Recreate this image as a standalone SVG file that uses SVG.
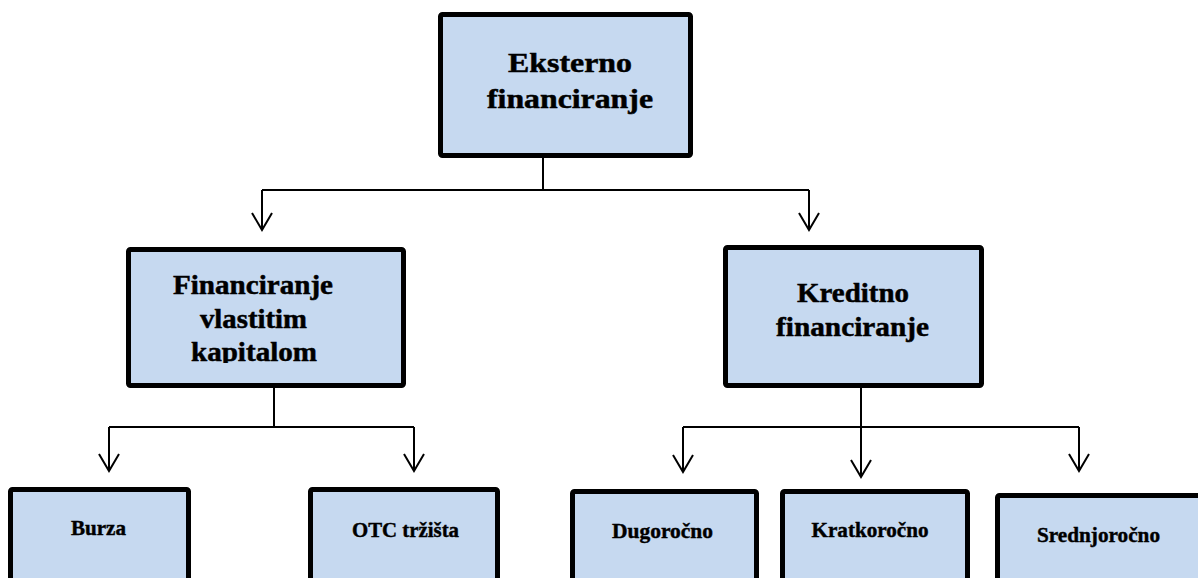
<svg xmlns="http://www.w3.org/2000/svg" width="1198" height="578" viewBox="0 0 1198 578">
<style>
.box{fill:#c6d9f0;stroke:#000;stroke-width:5;}
.t{font-family:"Liberation Serif","Times New Roman",serif;font-weight:bold;fill:#000;stroke:#000;stroke-width:0.5;text-anchor:middle;}
.big{font-size:28px;}
.small{font-size:20px;stroke-width:0.4;}
.con{fill:none;stroke:#000;stroke-width:2;}
</style>
<defs>
<marker id="arr" markerUnits="userSpaceOnUse" viewBox="-2 -12 22 24" markerWidth="22" markerHeight="24" refX="17" refY="0" orient="auto">
<path d="M0,-10 L17,0 L0,10" fill="none" stroke="#000" stroke-width="2"/>
</marker>
<clipPath id="clipL"><rect x="126" y="247" width="280" height="116"/></clipPath>
</defs>
<rect width="1198" height="578" fill="#fff"/>
<g id="connectors" class="con">
<path d="M543,158 V190 M262,190 H809"/>
<path d="M262,190 V230" marker-end="url(#arr)"/>
<path d="M809,190 V230" marker-end="url(#arr)"/>
<path d="M274,388 V427 M109,427 H414"/>
<path d="M109,427 V471" marker-end="url(#arr)"/>
<path d="M414,427 V471" marker-end="url(#arr)"/>
<path d="M683,427 H1079"/>
<path d="M861,388 V477" marker-end="url(#arr)"/>
<path d="M683,427 V472" marker-end="url(#arr)"/>
<path d="M1079,427 V471" marker-end="url(#arr)"/>
</g>
<g id="node-eksterno">
<rect class="box" x="440.5" y="14.5" width="250" height="141" rx="2"/>
<text class="t big" x="570" y="72" textLength="124" lengthAdjust="spacingAndGlyphs">Eksterno</text>
<text class="t big" x="570" y="108" textLength="166" lengthAdjust="spacingAndGlyphs">financiranje</text>
</g>
<g id="node-vlastitim">
<rect class="box" x="128.5" y="249.5" width="275" height="136" rx="2"/>
<g clip-path="url(#clipL)">
<text class="t big" x="253" y="294" textLength="160" lengthAdjust="spacingAndGlyphs">Financiranje</text>
<text class="t big" x="253.5" y="328" textLength="107" lengthAdjust="spacingAndGlyphs">vlastitim</text>
<text class="t big" x="254" y="361" textLength="126" lengthAdjust="spacingAndGlyphs">kapitalom</text>
</g>
</g>
<g id="node-kreditno">
<rect class="box" x="725.5" y="247.5" width="256" height="138" rx="2"/>
<text class="t big" x="853" y="302" textLength="112" lengthAdjust="spacingAndGlyphs">Kreditno</text>
<text class="t big" x="852.5" y="336" textLength="153" lengthAdjust="spacingAndGlyphs">financiranje</text>
</g>
<g id="node-burza">
<rect class="box" x="10.5" y="489.5" width="178" height="100" rx="2"/>
<text class="t small" x="98.5" y="535" textLength="55" lengthAdjust="spacingAndGlyphs">Burza</text>
</g>
<g id="node-otc">
<rect class="box" x="310.5" y="489.5" width="187" height="100" rx="2"/>
<text class="t small" x="405.5" y="537" textLength="107" lengthAdjust="spacingAndGlyphs">OTC tržišta</text>
</g>
<g id="node-dugorocno">
<rect class="box" x="572.5" y="491.5" width="184" height="100" rx="2"/>
<text class="t small" x="662.5" y="538" textLength="101" lengthAdjust="spacingAndGlyphs">Dugoročno</text>
</g>
<g id="node-kratkorocno">
<rect class="box" x="782.5" y="491.5" width="185" height="100" rx="2"/>
<text class="t small" x="870" y="537" textLength="117" lengthAdjust="spacingAndGlyphs">Kratkoročno</text>
</g>
<g id="node-srednjorocno">
<rect class="box" x="997.5" y="495.5" width="205" height="100" rx="2"/>
<text class="t small" x="1098.5" y="542" textLength="123" lengthAdjust="spacingAndGlyphs">Srednjoročno</text>
</g>
</svg>
